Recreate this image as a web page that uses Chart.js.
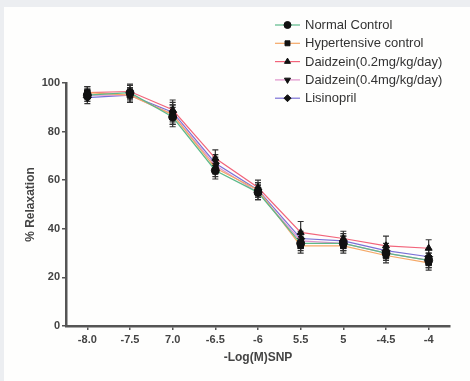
<!DOCTYPE html>
<html>
<head>
<meta charset="utf-8">
<script src="https://cdn.jsdelivr.net/npm/chart.js@4.4.1/dist/chart.umd.min.js"></script>
<style>
  html, body { margin: 0; padding: 0; background: #fff; }
  #wrap { width: 470px; height: 381px; position: relative; }
</style>
</head>
<body>
<div id="wrap"><canvas id="c" width="470" height="381"></canvas></div>
<script>
// --- Data ---
const doses = ['-8.0', '-7.5', '7.0', '-6.5', '-6', '5.5', '5', '-4.5', '-4'];

const normalControl = [95, 96, 86, 64, 55, 34, 34, 30, 27];
const hypertensive  = [96, 95, 87, 65, 56, 33, 33, 29, 26];
const daidzein02    = [96, 96.5, 89, 69, 57, 38.5, 36, 33, 32];
const daidzein04    = [95, 95, 87, 66, 55, 35, 34, 30, 27];
const lisinopril    = [94, 95, 88, 67, 56, 36, 35, 31, 28.5];

const normalErr = [2.5, 3, 4, 3.5, 3, 3, 3, 3, 3];
const hyperErr  = [2.5, 3, 4, 3.5, 3, 3, 3, 3, 3];
const d02Err    = [2.5, 3, 4, 3.5, 3, 4.5, 3, 4, 3.5];
const d04Err    = [2.5, 3, 4, 3.5, 3, 3, 3, 3, 3];
const lisErr    = [2.5, 3, 4, 3.5, 3, 3, 3, 3, 3];

const seriesNames = ['Normal Control', 'Hypertensive control', 'Daidzein(0.2mg/kg/day)', 'Daidzein(0.4mg/kg/day)', 'Lisinopril'];

const FONT = "'Liberation Sans', Arial, sans-serif";

function makeSet(label, data, err, color, style, rot) {
    return {
        label: label,
        data: data,
        err: err,
        borderColor: color,
        backgroundColor: '#111',
        borderWidth: 1.2,
        pointStyle: style,
        pointRotation: rot || 0,
        pointRadius: 4,
        pointBackgroundColor: '#111',
        pointBorderColor: '#111',
        pointBorderWidth: 1,
        tension: 0
    };
}

// page frame: light grey strip on top and left
const framePlugin = {
    id: 'frame',
    beforeDraw(chart) {
        const ctx = chart.ctx;
        ctx.save();
        ctx.fillStyle = '#fefefd';
        ctx.fillRect(0, 0, chart.width, chart.height);
        ctx.fillStyle = '#eceef1';
        ctx.fillRect(0, 0, chart.width, 7);
        ctx.fillRect(0, 0, 4, chart.height);
        ctx.restore();
    }
};

// error bars with caps
const errorBarPlugin = {
    id: 'errorBars',
    beforeDatasetsDraw(chart) {
        const ctx = chart.ctx;
        const y = chart.scales.y;
        ctx.save();
        ctx.strokeStyle = '#333';
        ctx.lineWidth = 1.2;
        chart.data.datasets.forEach((ds, i) => {
            const meta = chart.getDatasetMeta(i);
            meta.data.forEach((pt, j) => {
                const v = ds.data[j], e = ds.err[j];
                const top = y.getPixelForValue(v + e);
                const bot = y.getPixelForValue(v - e);
                ctx.beginPath();
                ctx.moveTo(pt.x, top); ctx.lineTo(pt.x, bot);
                ctx.moveTo(pt.x - 3, top); ctx.lineTo(pt.x + 3, top);
                ctx.moveTo(pt.x - 3, bot); ctx.lineTo(pt.x + 3, bot);
                ctx.stroke();
            });
        });
        ctx.restore();
    }
};

// vertical legend in the top right
const legendPlugin = {
    id: 'vLegend',
    afterDraw(chart) {
        const ctx = chart.ctx;
        ctx.save();
        ctx.font = '13px ' + FONT;
        ctx.textBaseline = 'middle';
        chart.data.datasets.forEach((ds, i) => {
            const ly = 25 + i * 18.3;
            ctx.strokeStyle = ds.borderColor;
            ctx.lineWidth = 1.2;
            ctx.beginPath();
            ctx.moveTo(275, ly); ctx.lineTo(300, ly);
            ctx.stroke();
            ctx.fillStyle = '#111';
            ctx.strokeStyle = '#111';
            ctx.lineWidth = 1;
            Chart.helpers.drawPoint(ctx, {
                pointStyle: ds.pointStyle,
                rotation: ds.pointRotation,
                radius: 3.5,
                borderWidth: 1
            }, 287.5, ly);
            ctx.fillStyle = '#333';
            ctx.fillText(ds.label, 305, ly + 0.5);
        });
        ctx.restore();
    }
};

const ctx = document.getElementById('c').getContext('2d');
new Chart(ctx, {
    type: 'line',
    data: {
        labels: doses,
        datasets: [
            makeSet(seriesNames[0], normalControl, normalErr, '#5cb98a', 'circle'),
            makeSet(seriesNames[1], hypertensive, hyperErr, '#f5a866', 'rect'),
            makeSet(seriesNames[2], daidzein02, d02Err, '#f2647a', 'triangle'),
            makeSet(seriesNames[3], daidzein04, d04Err, '#e093cb', 'triangle', 180),
            makeSet(seriesNames[4], lisinopril, lisErr, '#7a70d6', 'rectRot')
        ]
    },
    options: {
        responsive: false,
        animation: false,
        layout: { padding: { top: 83, right: 20, bottom: 0, left: 0 } },
        plugins: {
            legend: { display: false },
            tooltip: { enabled: false }
        },
        scales: {
            x: {
                type: 'category',
                offset: true,
                grid: { drawOnChartArea: false, drawTicks: true, tickLength: 4, color: '#555', lineWidth: 1.5 },
                border: { display: true, color: '#555', width: 2.5 },
                ticks: { color: '#444', font: { family: FONT, size: 11, weight: 'bold' }, padding: 3, maxRotation: 0, autoSkip: false },
                title: { display: true, text: '-Log(M)SNP', color: '#444', font: { family: FONT, size: 12, weight: 'bold' }, padding: { top: 0, bottom: 16 } },
                afterFit(scale) { scale.height = 55; }
            },
            y: {
                min: 0,
                max: 100,
                grid: { drawOnChartArea: false, drawTicks: true, tickLength: 4, color: '#555', lineWidth: 1.5 },
                border: { display: true, color: '#555', width: 2.5 },
                ticks: { stepSize: 20, color: '#444', font: { family: FONT, size: 11, weight: 'bold' }, padding: 2 },
                title: { display: true, text: '% Relaxation', color: '#444', font: { family: FONT, size: 12, weight: 'bold' }, padding: { top: 23, bottom: 0 } },
                afterFit(scale) { scale.width = 66; }
            }
        }
    },
    plugins: [framePlugin, errorBarPlugin, legendPlugin]
});
</script>
</body>
</html>
